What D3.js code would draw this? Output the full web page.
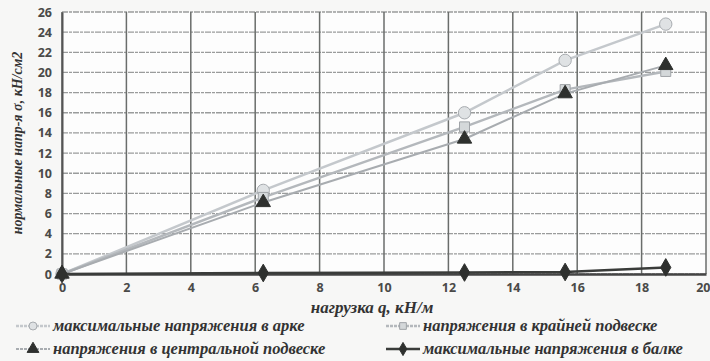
<!DOCTYPE html>
<html>
<head>
<meta charset="utf-8">
<script src="https://cdn.jsdelivr.net/npm/d3@7"></script>
<style>
  body { margin: 0; background: #f7f7f6; }
  svg { display: block; }
</style>
</head>
<body>
<div id="chart"></div>
<script>
// loads q, kN/m
var loads = [0, 6.25, 12.5, 15.625, 18.75];

// stresses, kN/cm2
var archMax = [0, 8.3, 16.0, 21.2, 24.8];
var edgeHanger = [0, 7.6, 14.6, 18.3, 20.1];
var centerHanger = [0, 7.1, 13.4, 17.9, 20.7];
var beamMax = [0, 0.1, 0.15, 0.2, 0.65];

var xTicks = [0, 2, 4, 6, 8, 10, 12, 14, 16, 18, 20];
var yTicks = [0, 2, 4, 6, 8, 10, 12, 14, 16, 18, 20, 22, 24, 26];

var seriesNames = [
  "максимальные напряжения в арке",
  "напряжения в крайней подвеске",
  "напряжения в центральной подвеске",
  "максимальные напряжения в балке"
];

var svgWidth = 710, svgHeight = 361;
var margin = { top: 12, right: 4, bottom: 87, left: 62 };
var width = svgWidth - margin.left - margin.right;
var height = svgHeight - margin.top - margin.bottom;

var svg = d3.select("#chart").append("svg")
  .attr("width", svgWidth)
  .attr("height", svgHeight);

var g = svg.append("g")
  .attr("transform", `translate(${margin.left}, ${margin.top})`);

var xScale = d3.scaleLinear().domain([0, 20]).range([0, width]);
var yScale = d3.scaleLinear().domain([0, 26]).range([height, 0]);

g.append("rect").attr("width", width).attr("height", height).attr("fill", "#fdfdfd");

// grid
g.selectAll(".hgrid").data(yTicks).enter().append("line")
  .attr("x1", 0).attr("x2", width)
  .attr("y1", d => yScale(d)).attr("y2", d => yScale(d))
  .attr("stroke", "#9a9c9c").attr("stroke-width", 1.3)
  .attr("stroke-dasharray", "6,1,3,1");

g.selectAll(".vgrid").data(xTicks).enter().append("line")
  .attr("y1", 0).attr("y2", height)
  .attr("x1", d => xScale(d)).attr("x2", d => xScale(d))
  .attr("stroke", "#6a6d6b").attr("stroke-width", 1.5);

// axes
var xAxis = d3.axisBottom(xScale).tickValues(xTicks).tickSize(0).tickPadding(9);
var yAxis = d3.axisLeft(yScale).tickValues(yTicks).tickSize(0).tickPadding(10);

var xg = g.append("g").attr("transform", `translate(0, ${height})`).call(xAxis)
  .call(a => a.select(".domain").attr("stroke", "#444").attr("stroke-width", 2.5));
g.append("g").call(yAxis)
  .call(a => a.select(".domain").attr("stroke", "#555").attr("stroke-width", 2));

g.selectAll(".tick text")
  .attr("font-family", "'Open Sans', 'DejaVu Sans', sans-serif")
  .attr("font-weight", "bold")
  .attr("font-size", 12.5)
  .attr("fill", "#4a4a48");

// last x label sits at the right edge, keep it inside
xg.selectAll(".tick text").filter(d => d === 20)
  .attr("text-anchor", "end").attr("dx", 4);

// titles
svg.append("text")
  .attr("x", 372).attr("y", 313)
  .attr("text-anchor", "middle")
  .attr("font-family", "'Liberation Serif', serif")
  .attr("font-style", "italic").attr("font-weight", "bold")
  .attr("font-size", 17).attr("fill", "#333")
  .text("нагрузка q, кН/м");

svg.append("text")
  .attr("transform", "translate(22, 143) rotate(-90)")
  .attr("text-anchor", "middle")
  .attr("font-family", "'Liberation Serif', serif")
  .attr("font-style", "italic").attr("font-weight", "bold")
  .attr("font-size", 14).attr("fill", "#333")
  .text("нормальные напр-я σ, кН/см2");

// series
var series = [
  { name: seriesNames[0], values: archMax, line: "#c4c8cc", lw: 2.5, marker: "circle", fill: "#dfe2e4", stroke: "#a8acb0" },
  { name: seriesNames[1], values: edgeHanger, line: "#b4b8bc", lw: 2.5, marker: "square", fill: "#d4d8da", stroke: "#a0a4a8" },
  { name: seriesNames[2], values: centerHanger, line: "#a8acb0", lw: 2, marker: "triangle", fill: "#2e302e", stroke: "#2e302e" },
  { name: seriesNames[3], values: beamMax, line: "#3a3c3a", lw: 2.5, marker: "diamond", fill: "#2e302e", stroke: "#2e302e" }
];

var symbolTypes = {
  circle: d3.symbolCircle,
  square: d3.symbolSquare,
  triangle: d3.symbolTriangle,
  diamond: d3.symbolDiamond
};
var symbolSizes = { circle: 120, square: 100, triangle: 90, diamond: 90 };
var legendSizes = { circle: 50, square: 45, triangle: 60, diamond: 50 };

var line = d3.line().x(d => xScale(d[0])).y(d => yScale(d[1]));

series.forEach(function(s) {
  var pts = loads.map((q, i) => [q, s.values[i]]);
  g.append("path")
    .datum(pts)
    .attr("fill", "none")
    .attr("stroke", s.line)
    .attr("stroke-width", s.lw)
    .attr("d", line);
  g.selectAll(null).data(pts).enter().append("path")
    .attr("transform", d => `translate(${xScale(d[0])}, ${yScale(d[1])})`)
    .attr("d", d3.symbol().type(symbolTypes[s.marker]).size(symbolSizes[s.marker]))
    .attr("fill", s.fill)
    .attr("stroke", s.stroke)
    .attr("stroke-width", 1);
});

// legend
var legendPos = [
  { x: 16, y: 326 },
  { x: 386, y: 326 },
  { x: 16, y: 349 },
  { x: 386, y: 349 }
];

series.forEach(function(s, i) {
  var p = legendPos[i];
  var lg = svg.append("g").attr("transform", `translate(${p.x}, ${p.y})`);
  lg.append("line").attr("x1", 0).attr("x2", 34).attr("y1", 0).attr("y2", 0)
    .attr("stroke", s.line).attr("stroke-width", s.lw)
    .attr("stroke-dasharray", i < 3 ? "3,1" : null);
  lg.append("path").attr("transform", "translate(17, 0)")
    .attr("d", d3.symbol().type(symbolTypes[s.marker]).size(legendSizes[s.marker]))
    .attr("fill", s.fill).attr("stroke", s.stroke);
  lg.append("text").attr("x", 37).attr("y", 5)
    .attr("font-family", "'Liberation Serif', serif")
    .attr("font-style", "italic").attr("font-weight", "bold")
    .attr("font-size", 16.5).attr("fill", "#333")
    .text(s.name);
});
</script>
</body>
</html>
